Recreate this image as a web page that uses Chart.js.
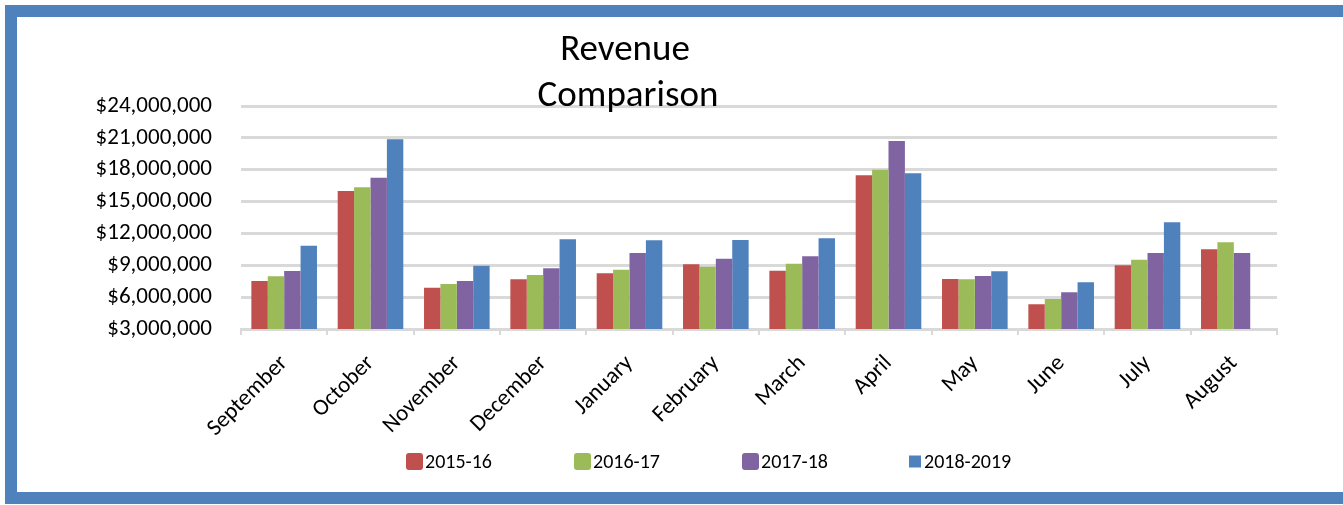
<!DOCTYPE html>
<html>
<head>
<meta charset="utf-8">
<script src="https://cdn.jsdelivr.net/npm/chart.js@4.4.0/dist/chart.umd.min.js"></script>
<style>
  html, body { margin: 0; padding: 0; background: #fff; overflow: hidden; }
  #wrap { position: relative; width: 1343px; height: 505px; overflow: hidden; }
  #frame { position: absolute; left: 5px; top: 5px; right: -40px; height: 475px;
           border: 12px solid #4F81BD; background: #fff; z-index: 0; }
  #c { position: absolute; left: 0; top: 0; z-index: 1; }
</style>
</head>
<body>
<div id="wrap">
  <div id="frame"></div>
  <canvas id="c" width="1343" height="505"></canvas>
</div>
<script>
const categories = ["September","October","November","December","January","February","March","April","May","June","July","August"];
const seriesNames = ["2015-16","2016-17","2017-18","2018-2019"];
const s2015 = [7520000,16000000,6890000,7680000,8240000,9090000,8490000,17470000,7710000,5330000,9000000,10500000];
const s2016 = [7960000,16340000,7240000,8080000,8580000,8870000,9150000,18000000,7680000,5820000,9530000,11160000];
const s2017 = [8460000,17250000,7520000,8710000,10160000,9620000,9840000,20700000,7990000,6450000,10160000,10160000];
const s2018 = [10840000,20860000,8960000,11450000,11350000,11380000,11540000,17660000,8430000,7400000,13050000,null];
const yTicks = [3000000,6000000,9000000,12000000,15000000,18000000,21000000,24000000];
const titleLines = ["Revenue","Comparison"];
const colors = ["#C0504D","#9BBB59","#8064A2","#4F81BD"];

const FONT = "Calibri, Carlito, Lato, sans-serif";

const titlePlugin = {
  id: 'customTitle',
  afterDraw(chart) {
    const ctx = chart.ctx;
    ctx.save();
    ctx.fillStyle = '#000';
    ctx.font = '37px ' + FONT;
    ctx.textAlign = 'center';
    ctx.textBaseline = 'middle';
    ctx.fillText(titleLines[0], 625, 51);
    ctx.fillText(titleLines[1], 628, 97);
    ctx.restore();
  }
};

const legendX = [406, 574, 742, 908];
const legendPlugin = {
  id: 'customLegend',
  afterDraw(chart) {
    const ctx = chart.ctx;
    ctx.save();
    ctx.textBaseline = 'middle';
    ctx.textAlign = 'left';
    chart.data.datasets.forEach((ds, i) => {
      const x = legendX[i];
      const y = 461.5;
      ctx.fillStyle = ds.backgroundColor;
      if (i < 3) {
        ctx.beginPath();
        ctx.roundRect(x, y - 8.5, 17, 17, 3);
        ctx.fill();
      } else {
        ctx.fillRect(x + 1, y - 6, 12, 12);
      }
      ctx.fillStyle = '#000';
      ctx.font = '20px ' + FONT;
      ctx.fillText(ds.label, i < 3 ? x + 19 : x + 16, y + 1);
    });
    ctx.restore();
  }
};

new Chart(document.getElementById('c'), {
  type: 'bar',
  data: {
    labels: categories,
    datasets: [s2015, s2016, s2017, s2018].map((d, i) => ({
      label: seriesNames[i],
      data: d,
      backgroundColor: colors[i],
      borderWidth: 0,
      barPercentage: 1.0,
      categoryPercentage: 0.76
    }))
  },
  options: {
    responsive: false,
    animation: false,
    layout: { padding: { top: 106, right: 66, left: 0, bottom: 0 } },
    plugins: {
      legend: { display: false },
      title: { display: false },
      tooltip: { enabled: false }
    },
    scales: {
      x: {
        grid: { drawOnChartArea: false, drawTicks: true, tickLength: 6, color: '#D9D9D9', lineWidth: 2, offset: true },
        border: { display: true, color: '#D9D9D9', width: 3 },
        ticks: { color: '#000', font: { family: FONT, size: 23 }, minRotation: 45, maxRotation: 45, padding: 15, autoSkip: false },
        afterFit(scale) { scale.height = 176; }
      },
      y: {
        min: 3000000,
        max: 24000000,
        afterBuildTicks(scale) { scale.ticks = yTicks.map(v => ({ value: v })); },
        grid: { color: '#D9D9D9', lineWidth: 3, drawTicks: false },
        border: { display: false },
        ticks: {
          color: '#000', font: { family: FONT, size: 23 }, padding: 29,
          callback: v => '$' + Number(v).toLocaleString('en-US')
        },
        afterFit(scale) { scale.width = 241; }
      }
    }
  },
  plugins: [titlePlugin, legendPlugin]
});
</script>
</body>
</html>
